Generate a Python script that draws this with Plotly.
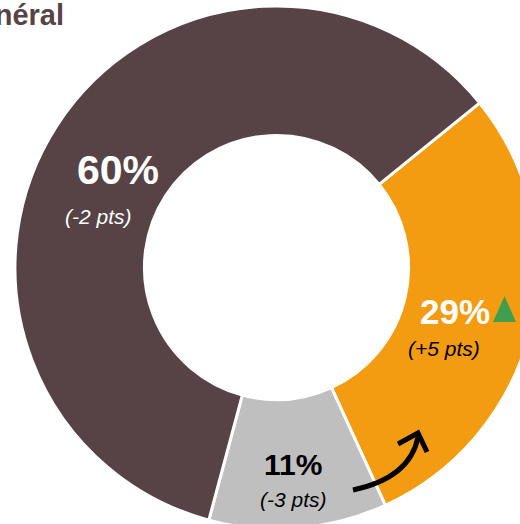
import plotly.graph_objects as go

# ---- data ----
labels = ["Orange", "Gris", "Marron"]
values = [29, 11, 60]
pct_text = ["29%", "11%", "60%"]
delta_text = ["(+5 pts)", "(-3 pts)", "(-2 pts)"]
colors = ["#F39C12", "#BFBFBF", "#574346"]
title_text = "Général"

W, H = 540, 540


def px(x, y):
    return x / W, 1 - y / H


cx, cy, R = 276.5, 267.5, 261.5
fig = go.Figure(go.Pie(
    labels=labels, values=values, sort=False, direction="clockwise",
    rotation=51, hole=0.505, textinfo="none", hoverinfo="label+percent",
    marker=dict(colors=colors, line=dict(color="white", width=3)),
    domain=dict(x=[(cx - R) / W, (cx + R) / W], y=[1 - (cy + R) / H, 1 - (cy - R) / H]),
    showlegend=False,
))

font = "Arial, Liberation Sans, sans-serif"
# label placements (pixels): (pct x, pct y, size, delta x, delta y, color)
place = [
    (455, 312, 35, 444, 348, "white", "black"),
    (293, 464, 30, 293, 499, "black", "black"),
    (118, 170, 41, 98, 216, "white", "white"),
]
anns = []
for (x1, y1, s1, x2, y2, c1, c2), p, d in zip(place, pct_text, delta_text):
    ax, ay = px(x1, y1)
    anns.append(dict(x=ax, y=ay, xref="paper", yref="paper", text=f"<b>{p}</b>",
                     showarrow=False, font=dict(family=font, size=s1, color=c1),
                     xanchor="center", yanchor="middle"))
    bx, by = px(x2, y2)
    anns.append(dict(x=bx, y=by, xref="paper", yref="paper", text=f"<i>{d}</i>",
                     showarrow=False, font=dict(family=font, size=21, color=c2),
                     xanchor="center", yanchor="middle"))

tx, ty = px(66, 15)
anns.append(dict(x=tx, y=ty, xref="paper", yref="paper", text=f"<b>{title_text}</b>",
                 showarrow=False, font=dict(family=font, size=29, color="#574346"),
                 xanchor="right", yanchor="middle"))


def P(x, y):
    a, b = px(x, y)
    return f"{a:.5f},{b:.5f}"


shapes = [
    # green up triangle
    dict(type="path", xref="paper", yref="paper",
         path=f"M {P(493,322)} L {P(516,322)} L {P(504.5,296)} Z",
         fillcolor="#3F9E50", line=dict(width=0)),
    # curved arrow
    dict(type="path", xref="paper", yref="paper",
         path=f"M {P(353,490)} Q {P(410,478)} {P(418,437)}",
         line=dict(color="black", width=5)),
    dict(type="path", xref="paper", yref="paper",
         path=f"M {P(398,444)} L {P(418,433)} L {P(427,452)}",
         line=dict(color="black", width=5)),
]

fig.update_layout(
    width=W, height=H, margin=dict(l=0, r=0, t=0, b=0),
    paper_bgcolor="white", plot_bgcolor="white",
    annotations=anns, shapes=shapes,
)

fig.write_html("out.html", post_script=(
    "document.documentElement.style.overflow='hidden';"
    "document.body.style.overflow='hidden';document.body.style.margin='0';"
))
